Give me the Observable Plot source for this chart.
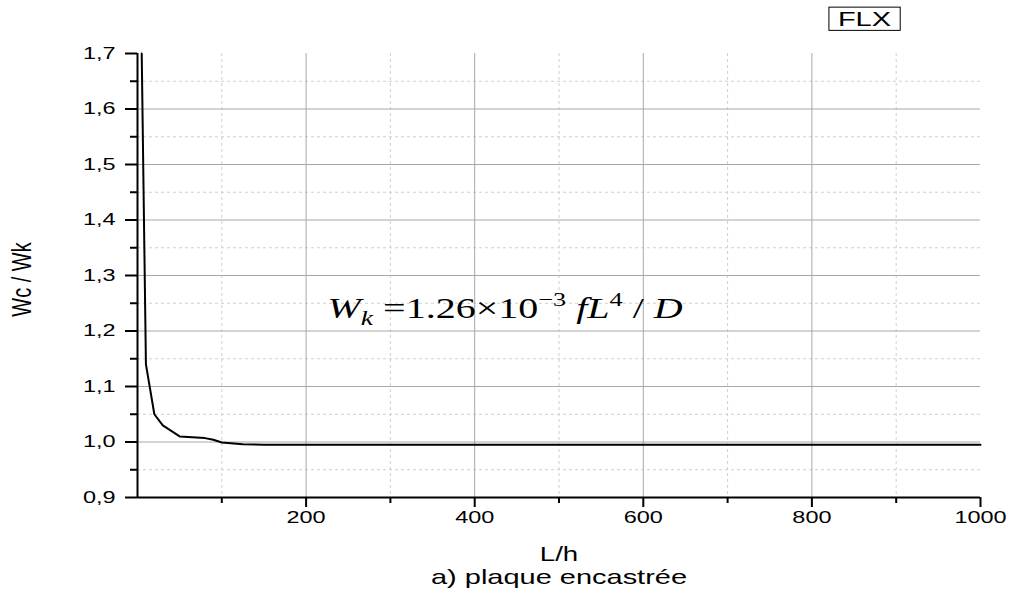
<!DOCTYPE html>
<html><head><meta charset="utf-8">
<script src="https://cdn.jsdelivr.net/npm/d3@7"></script>
<script src="https://cdn.jsdelivr.net/npm/@observablehq/plot@0.6"></script>
<style>
body{margin:0;background:#fff;}
#chart svg{display:block;}
</style>
</head><body><div id="chart"></div>
<script>
// ---- data ----
const lh    = [5,    10,   20,   30,   50,   80,    90,    100,   125,   150,   200,   400,   600,   800,   1000];
const ratio = [1.70, 1.14, 1.05, 1.03, 1.01, 1.007, 1.004, 0.999, 0.996, 0.995, 0.995, 0.995, 0.995, 0.995, 0.995];
const xMajorTicks = [200, 400, 600, 800, 1000];
const xMinorTicks = [100, 300, 500, 700, 900];
const yMajorTicks = [0.9, 1.0, 1.1, 1.2, 1.3, 1.4, 1.5, 1.6, 1.7];
const yMinorTicks = [0.95, 1.05, 1.15, 1.25, 1.35, 1.45, 1.55, 1.65];
const xGridMajor = [200, 400, 600, 800];
const yGridMajor = [1.0, 1.1, 1.2, 1.3, 1.4, 1.5, 1.6];
const xLabel = "L/h";
const yLabel = "Wc / Wk";
const caption = "a) plaque encastrée";
const legendLabel = "FLX";
const formulaAt = {x: 226, y: 1.222};

const data = lh.map((v, i) => ({lh: v, ratio: ratio[i]}));
const fmtY = d => d.toFixed(1).replace(".", ",");
const fmtX = d => String(d);
const STRETCH = 1.38;

function formulaMark() {
  const t = d3.create("svg:text")
    .attr("class", "formula")
    .attr("text-anchor", "start")
    .attr("font-family", "'Liberation Serif','Times New Roman',serif")
    .attr("font-size", 29)
    .attr("fill", "black");
  const parts = [
    {s: "W", it: true},
    {s: "k", it: true, size: 20, dy: 7},
    {s: " =1.26\u00d710", dy: -7},
    {s: "\u22123", size: 19, dy: -12},
    {s: " ", dy: 12},
    {s: "f", it: true},
    {s: "L", it: true},
    {s: "4", size: 19, dy: -12},
    {s: " / ", dy: 12},
    {s: "D", it: true}
  ];
  for (const p of parts) {
    const ts = t.append("tspan").text(p.s);
    if (p.it) ts.attr("font-style", "italic");
    if (p.size) ts.attr("font-size", p.size);
    if (p.dy) ts.attr("dy", p.dy);
  }
  return t.node();
}

const plot = Plot.plot({
  width: 1009,
  height: 596,
  marginLeft: 137,
  marginRight: 29,
  marginTop: 53,
  marginBottom: 99,
  style: {fontFamily: "'Liberation Sans', Arial, sans-serif", fontSize: "17px", color: "black", background: "white"},
  x: {domain: [0, 1000], label: null},
  y: {domain: [0.9, 1.7], label: null},
  marks: [
    Plot.gridX(xMinorTicks, {stroke: "#cfcfcf", strokeOpacity: 1, strokeDasharray: "3,3"}),
    Plot.gridY(yMinorTicks, {stroke: "#cfcfcf", strokeOpacity: 1, strokeDasharray: "3,3"}),
    Plot.gridX(xGridMajor, {stroke: "#a8a8a8", strokeOpacity: 1}),
    Plot.gridY(yGridMajor, {stroke: "#a8a8a8", strokeOpacity: 1}),
    Plot.axisX(xMinorTicks, {tickSize: 6, tickFormat: () => "", strokeWidth: 2, label: null}),
    Plot.axisX(xMajorTicks, {tickSize: 10, tickPadding: 3, tickFormat: fmtX, strokeWidth: 2, fontSize: 17, label: null}),
    Plot.axisY(yMinorTicks, {tickSize: 7, tickFormat: () => "", strokeWidth: 2, label: null}),
    Plot.axisY(yMajorTicks, {tickSize: 12, tickPadding: 10, tickFormat: fmtY, strokeWidth: 2, fontSize: 17, label: null}),
    Plot.ruleX([0], {stroke: "black", strokeWidth: 2}),
    Plot.ruleY([0.9], {stroke: "black", strokeWidth: 2}),
    Plot.line(data, {x: "lh", y: "ratio", stroke: "black", strokeWidth: 2}),
    formulaMark,
    Plot.text([yLabel], {frameAnchor: "left", dx: -115, dy: 4, rotate: -90, textAnchor: "middle", fontSize: 20, fill: "black"}),
    Plot.text([xLabel], {frameAnchor: "bottom", dy: 57, fontSize: 20, fill: "black", lineAnchor: "middle"}),
    Plot.text([caption], {frameAnchor: "bottom", dy: 80, fontSize: 21, fill: "black", lineAnchor: "middle"}),
    Plot.text([legendLabel], {frameAnchor: "top-right", dx: -116, dy: -34, fontSize: 21, fill: "black", lineAnchor: "middle", textAnchor: "middle"})
  ]
});

document.getElementById("chart").append(plot);

// place the formula through the plot's own scales
const sx = plot.scale("x"), sy = plot.scale("y");
const fx = sx.apply(formulaAt.x), fy = sy.apply(formulaAt.y);

// horizontal stretch of the reference's text
plot.querySelectorAll("text").forEach(t => {
  if (t.classList.contains("formula")) {
    t.setAttribute("transform", `translate(${fx},${fy}) scale(${STRETCH},1)`);
    return;
  }
  const tr = t.getAttribute("transform") || "";
  if (tr.includes("rotate")) {
    t.setAttribute("transform", tr + ` scale(1,${STRETCH})`);
    return;
  }
  t.setAttribute("transform", tr + ` scale(${STRETCH},1)`);
});

// legend box
const lt = Array.from(plot.querySelectorAll("text")).find(t => t.textContent === legendLabel);
if (lt) {
  const sb = plot.getBoundingClientRect();
  const b = lt.getBoundingClientRect();
  const padX = 9;
  d3.select(plot).append("rect")
    .attr("x", b.left - sb.left - padX)
    .attr("y", b.top - sb.top)
    .attr("width", b.width + 2 * padX)
    .attr("height", b.height)
    .attr("fill", "none")
    .attr("stroke", "black")
    .attr("stroke-width", 1);
}
</script>
</body></html>
